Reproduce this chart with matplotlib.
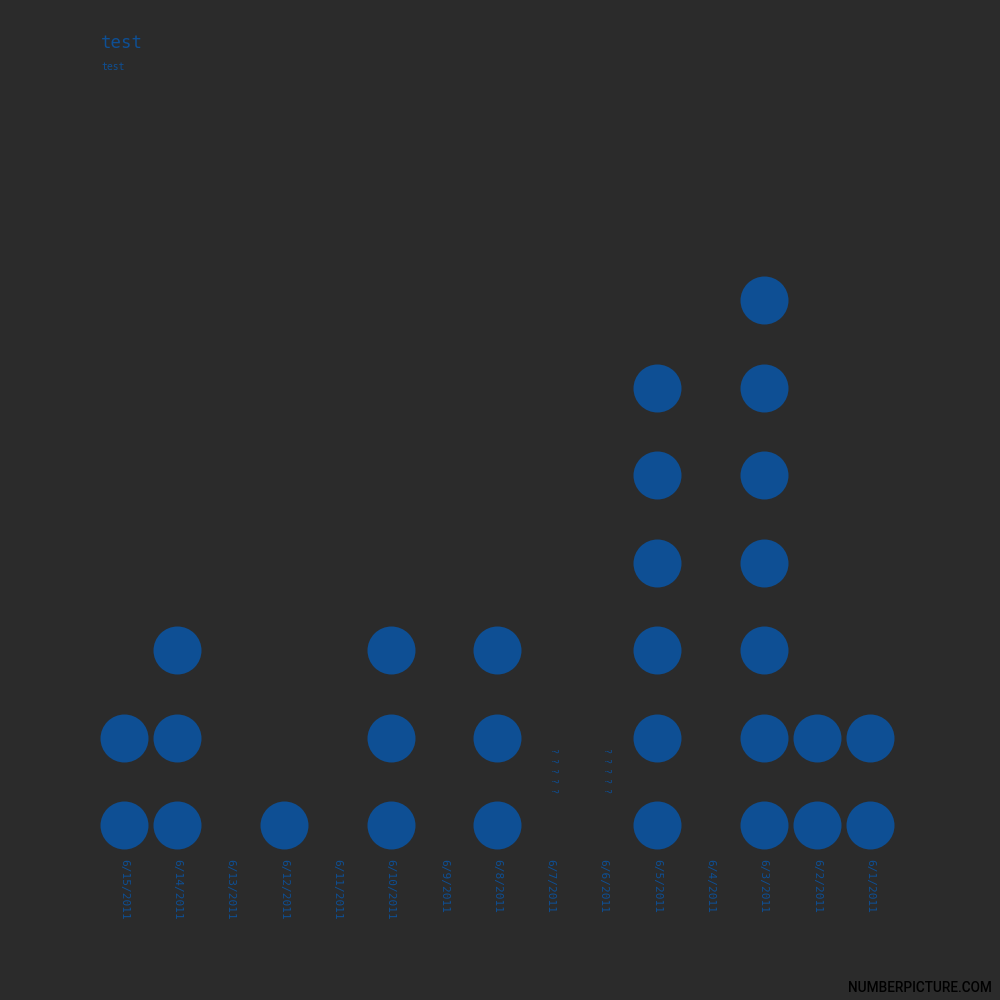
import matplotlib
matplotlib.use("Agg")
import matplotlib.pyplot as plt

# ── Data ────────────────────────────────────────────────────────────────────
dates  = ["6/15/2011", "6/14/2011", "6/13/2011", "6/12/2011", "6/11/2011",
          "6/10/2011", "6/9/2011", "6/8/2011", "6/7/2011", "6/6/2011",
          "6/5/2011", "6/4/2011", "6/3/2011", "6/2/2011", "6/1/2011"]
counts = [2, 3, 0, 1, 0, 3, 0, 3, 0, 0, 6, 0, 7, 2, 2]
unknown = ["6/7/2011", "6/6/2011"]   # columns that show missing-glyph marks

# ── Style ───────────────────────────────────────────────────────────────────
BG    = "#2b2b2b"
BLUE  = "#0e4f94"
MONO  = "DejaVu Sans Mono"

fig = plt.figure(figsize=(10, 10), dpi=100, facecolor=BG)
ax = fig.add_axes([0, 0, 1, 1])
ax.set_facecolor(BG)

col_step, row_step = 53.3, 87.5
x0 = -124 / col_step
y0 = -175 / row_step
ax.set_xlim(x0, x0 + 1000 / col_step)
ax.set_ylim(y0, y0 + 1000 / row_step)
ax.axis("off")

xs, ys = [], []
for i, c in enumerate(counts):
    for r in range(c):
        xs.append(i)
        ys.append(r)
ax.scatter(xs, ys, s=(48 * 0.72) ** 2, color=BLUE, linewidths=0)

for i, d in enumerate(dates):
    ax.text(i, -0.39, d, rotation=-90, ha="center", va="top",
            fontsize=8, family=MONO, color=BLUE)
    if d in unknown:
        ax.text(i + 0.05, 0.88, "? ? ? ? ?", rotation=-90, ha="center", va="top",
                fontsize=6, family=MONO, color=BLUE)

fig.text(0.101, 0.957, "test", ha="left", va="center", fontsize=12.5,
         family=MONO, color=BLUE)
fig.text(0.101, 0.933, "test", ha="left", va="center", fontsize=7,
         family=MONO, color=BLUE)
fig.text(0.992, 0.012, "NUMBERPICTURE.COM", ha="right", va="center",
         fontsize=9.8, family="Roboto", fontweight="medium", color="black")

fig.savefig("out.png", dpi=100, facecolor=BG)
